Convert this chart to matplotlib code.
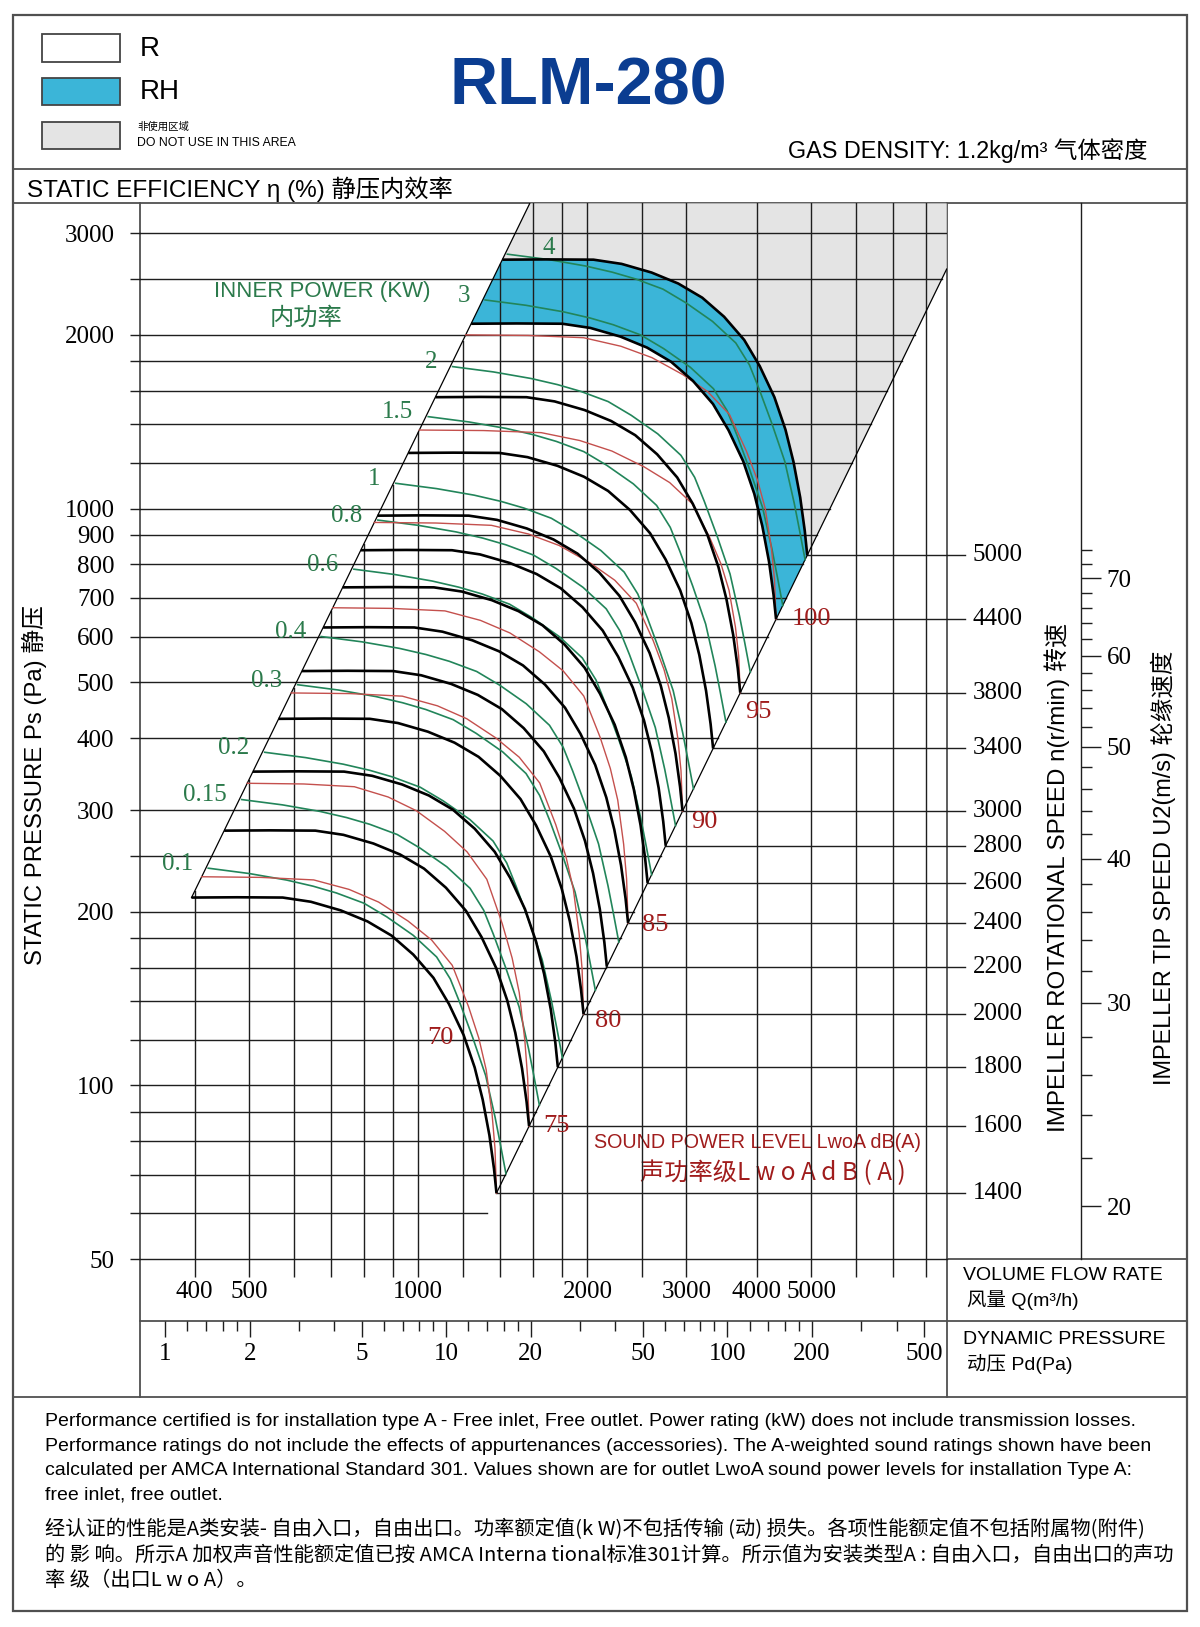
import numpy as np
import matplotlib.pyplot as plt
from matplotlib.patches import Polygon, Rectangle
from matplotlib.ticker import FixedLocator, FixedFormatter, NullFormatter

SANS = ['Liberation Sans', 'Noto Sans CJK SC', 'DejaVu Sans']
SERIF = ['Liberation Serif', 'DejaVu Serif']
CJK = ['Noto Sans CJK SC', 'DejaVu Sans']

# ---------------- data ----------------
Q_LIM = (320, 8710)        # volume flow, m3/h
P_LIM = (50, 3380)         # static pressure, Pa

P_GRID = [60, 70, 80, 90, 100, 120, 140, 160, 180, 200, 250, 300, 400, 500,
          600, 700, 800, 900, 1000, 1200, 1400, 1600, 1800, 2000, 2500, 3000]
P_TICKS = [50, 100, 200, 300, 400, 500, 600, 700, 800, 900, 1000, 2000, 3000]
Q_GRID = [400, 500, 600, 700, 800, 900, 1000, 1200, 1400, 1600, 1800, 2000,
          2500, 3000, 4000, 5000, 6000, 7000, 8000]
Q_TICKS = [400, 500, 1000, 2000, 3000, 4000, 5000]

PD_TICKS = [1, 2, 5, 10, 20, 50, 100, 200, 500]
PD_MINOR = [1.2, 1.4, 1.6, 1.8, 3, 4, 6, 7, 8, 9, 12, 14, 16, 18, 30, 40,
            60, 70, 80, 90, 120, 140, 160, 180, 300, 400]

TIP_MAJOR = [20, 30, 40, 50, 60, 70]
TIP_MINOR = [22, 24, 26, 28, 32, 34, 36, 38, 42, 44, 46, 48, 52, 54, 56, 58,
             62, 64, 66, 68, 72, 74]

SPEEDS = [1400, 1600, 1800, 2000, 2200, 2400, 2600, 2800, 3000, 3400, 3800, 4400, 5000]
R_MAX_SPEED = 4400          # RH band is between 4400 and 5000 r/min
BASE_SPEED = 5000
# fan curve at 5000 r/min (Q m3/h, Ps Pa)
BASE_Q = [1411, 1700, 2050, 2300, 2600, 2900, 3200, 3500, 3800, 4050, 4300,
          4500, 4650, 4780, 4870, 4920]
BASE_P = [2700, 2703, 2700, 2655, 2565, 2455, 2320, 2150, 1960, 1765, 1560,
          1370, 1205, 1045, 915, 830]

# inner power curves (kW): start pressure on the left boundary line
POWER_LABELS = ['0.1', '0.15', '0.2', '0.3', '0.4', '0.6', '0.8', '1', '1.5', '2', '3', '4']
POWER_START_P = [238, 313, 378, 495, 600, 785, 955, 1106, 1443, 1762, 2299, 2760]
# shape of the 0.1 kW curve
POWER_Q = [423, 500, 583, 650, 715, 800, 879, 980, 1078, 1140, 1186, 1250,
           1318, 1370, 1400, 1432]
POWER_P = [238, 233, 227, 221.5, 215.6, 207, 196, 182, 167, 153, 139, 121,
           104, 88, 79, 70.3]

# sound power level curves dB(A): start pressure and the speed curve they end on
SOUND_LABELS = ['70', '75', '80', '85', '90', '95', '100']
SOUND_START_P = [230, 334, 479, 673, 946, 1368, 2000]
SOUND_END_SPEED = [1400, 1600, 2000, 2400, 3000, 3800, 4400]
# normalised shape (log flow fraction, log pressure fraction)
SOUND_U = [0, 0.2, 0.38, 0.5, 0.6, 0.7, 0.78, 0.85, 0.905, 0.94, 0.965, 0.985, 0.995, 1]
SOUND_V = [1, 0.998, 0.99, 0.96, 0.92, 0.86, 0.80, 0.72, 0.59, 0.49, 0.39, 0.25, 0.14, 0]

IMPELLER_D = 0.28           # m
OUTLET_AREA = 0.0763        # m2
GAS_DENSITY = 1.2           # kg/m3

# ---------------- styles ----------------
GRID_C = '#1e1e1e'
BLUE = '#3bb5d8'
GREY = '#e4e4e4'
GREEN = '#22855a'
GREEN_TXT = '#2b7a4b'
RED = '#c4504d'
RED_TXT = '#a01c1c'
FRAME_C = '#505050'
TICK_FS = 18

# offsets (points) of the dB labels from the end of their curve
SOUND_LABEL_OFFSETS = [(-40, 112), (20, 0), (18, -5), (19.5, -1.5), (16, -8), (13, -14), (25.5, 0)]


def fan_scale(q, p, ratio):
    return np.asarray(q, float) * ratio, np.asarray(p, float) * ratio ** 2


fig = plt.figure(figsize=(12, 16.27), dpi=100)

# background layer in pixel coordinates for frame, header and footer
bg = fig.add_axes([0, 0, 1, 1])
bg.set_xlim(0, 1200)
bg.set_ylim(1627, 0)
bg.axis('off')

bg.add_patch(Rectangle((12.5, 14.5), 1174, 1596, fc='none', ec=FRAME_C, lw=1.6))
for y, x0, x1 in [(169, 12.5, 1186.5), (203.4, 12.5, 1186.5), (1258.5, 946.7, 1186.5),
                  (1321, 140.1, 1186.5), (1397, 12.5, 1186.5)]:
    bg.plot([x0, x1], [y, y], color=FRAME_C, lw=1.3)
for x in [140.1, 946.7]:
    bg.plot([x, x], [203.4, 1397], color=FRAME_C, lw=1.3)

# legend boxes
bg.add_patch(Rectangle((41.5, 34), 78, 28, fc='white', ec='#444444', lw=1.3))
bg.add_patch(Rectangle((41.5, 78), 78, 27, fc=BLUE, ec='#444444', lw=1.3))
bg.add_patch(Rectangle((41.5, 121.5), 78, 27, fc=GREY, ec='#444444', lw=1.3))
bg.text(140, 49, 'R', fontsize=20, family=SANS, va='center')
bg.text(140, 92, 'RH', fontsize=20, family=SANS, va='center')
bg.text(137, 127, '非使用区域', fontsize=7.5, family=CJK, va='center')
bg.text(137, 143, 'DO NOT USE IN THIS AREA', fontsize=8.8, family=SANS, va='center')
bg.text(588, 87, 'RLM-280', fontsize=48, fontweight='bold', family=SANS,
        color='#0b3d91', ha='center', va='center')
bg.text(1147, 151, 'GAS DENSITY: 1.2kg/m³ 气体密度', fontsize=16.8, family=SANS,
        ha='right', va='center')
bg.text(27, 189, 'STATIC EFFICIENCY η (%) 静压内效率', fontsize=17.5, family=SANS, va='center')
bg.text(34, 785, 'STATIC PRESSURE Ps (Pa) 静压', fontsize=17.2, family=SANS,
        rotation=90, ha='center', va='center')
bg.text(1057, 877, 'IMPELLER ROTATIONAL SPEED n(r/min) 转速', fontsize=17.4, family=SANS,
        rotation=90, ha='center', va='center')
bg.text(1163, 868, 'IMPELLER TIP SPEED U2(m/s) 轮缘速度', fontsize=16.9, family=SANS,
        rotation=90, ha='center', va='center')
bg.text(963, 1275, 'VOLUME FLOW RATE', fontsize=14, family=SANS, va='center')
bg.text(967, 1300, '风量 Q(m³/h)', fontsize=14, family=SANS, va='center')
bg.text(963, 1339, 'DYNAMIC PRESSURE', fontsize=14, family=SANS, va='center')
bg.text(967, 1364, '动压 Pd(Pa)', fontsize=14, family=SANS, va='center')

footer_en = [
    'Performance certified is for installation type A - Free inlet, Free outlet. Power rating (kW) does not include transmission losses.',
    'Performance ratings do not include the effects of appurtenances (accessories). The A-weighted sound ratings shown have been',
    'calculated per AMCA International Standard 301. Values shown are for outlet LwoA sound power levels for installation Type A:',
    'free inlet, free outlet.',
]
footer_cn = [
    '经认证的性能是A类安装- 自由入口，自由出口。功率额定值(k W)不包括传输 (动) 损失。各项性能额定值不包括附属物(附件)',
    '的 影 响。所示A 加权声音性能额定值已按 AMCA Interna tional标准301计算。所示值为安装类型A : 自由入口，自由出口的声功',
    '率 级（出口L w o A）。',
]
for i, line in enumerate(footer_en):
    bg.text(45, 1422 + 24.3 * i, line, fontsize=14.0, family=SANS, va='center')
for i, line in enumerate(footer_cn):
    bg.text(45, 1529 + 26 * i, line, fontsize=14.6, family=CJK, va='center')

# ---------------- main chart ----------------
ax = fig.add_axes([140.1 / 1200, 1 - 1259.1 / 1627, 806.6 / 1200, 1055.7 / 1627])
ax.set_facecolor('none')
ax.set_xscale('log')
ax.set_yscale('log')
ax.set_xlim(*Q_LIM)
ax.set_ylim(*P_LIM)
for s in ['top', 'left', 'right']:
    ax.spines[s].set_visible(False)
ax.spines['bottom'].set_color(GRID_C)
ax.spines['bottom'].set_linewidth(1.0)

ax.xaxis.set_major_locator(FixedLocator(Q_TICKS))
ax.xaxis.set_major_formatter(FixedFormatter([str(q) for q in Q_TICKS]))
ax.xaxis.set_minor_locator(FixedLocator([q for q in Q_GRID if q not in Q_TICKS]))
ax.xaxis.set_minor_formatter(NullFormatter())
ax.yaxis.set_major_locator(FixedLocator(P_TICKS))
ax.yaxis.set_major_formatter(FixedFormatter([str(p) for p in P_TICKS]))
ax.yaxis.set_minor_locator(FixedLocator([p for p in P_GRID if p not in P_TICKS]))
ax.yaxis.set_minor_formatter(NullFormatter())
ax.tick_params(axis='x', which='both', direction='out', length=13, width=1.0,
               color=GRID_C, pad=3, labelsize=TICK_FS, labelfontfamily=SERIF)
ax.tick_params(axis='y', which='both', direction='out', length=7.5, width=1.0,
               color=GRID_C, pad=11, labelsize=TICK_FS, labelfontfamily=SERIF)

c_left = BASE_P[0] / BASE_Q[0] ** 2     # left boundary line  P = c Q^2
c_right = BASE_P[-1] / BASE_Q[-1] ** 2  # right boundary line

curves = {n: fan_scale(BASE_Q, BASE_P, n / BASE_SPEED) for n in SPEEDS}
q_top, p_top = curves[BASE_SPEED]
q_r, p_r = curves[R_MAX_SPEED]
q_low, p_low = curves[SPEEDS[0]]

# do-not-use area and RH band
q_left_top = np.sqrt(P_LIM[1] / c_left)
grey_pts = ([(q_left_top, P_LIM[1]), (Q_LIM[1], P_LIM[1]), (Q_LIM[1], c_right * Q_LIM[1] ** 2)]
            + list(zip(q_top[::-1], p_top[::-1])))
ax.add_patch(Polygon(grey_pts, closed=True, fc=GREY, ec='none', zorder=1))
blue_pts = list(zip(q_top, p_top)) + list(zip(q_r[::-1], p_r[::-1]))
ax.add_patch(Polygon(blue_pts, closed=True, fc=BLUE, ec='none', zorder=1))

# grid, clipped by the two boundary lines
for p in P_GRID:
    q_end = min(np.sqrt(p / c_right), Q_LIM[1])
    ax.plot([Q_LIM[0], q_end], [p, p], color=GRID_C, lw=1.0, zorder=2)
for q in Q_GRID:
    ax.plot([q, q], [P_LIM[0], min(c_left * q ** 2, P_LIM[1])], color=GRID_C, lw=1.0, zorder=2)

# boundary lines
ax.plot([q_low[0], q_left_top], [p_low[0], P_LIM[1]], color='black', lw=0.9, zorder=3)
ax.plot([q_low[-1], Q_LIM[1]], [p_low[-1], c_right * Q_LIM[1] ** 2], color='black', lw=0.9, zorder=3)

# power curves
for lab, p0 in zip(POWER_LABELS, POWER_START_P):
    q, p = fan_scale(POWER_Q, POWER_P, np.sqrt(p0 / POWER_P[0]))
    ax.plot(q, p, color=GREEN, lw=1.2, zorder=4)
    if lab == '4':
        ax.annotate(lab, (q[0], p[0]), xytext=(30, 4.5), textcoords='offset points',
                    ha='center', va='center', fontsize=18, family=SERIF, color=GREEN_TXT)
    else:
        ax.annotate(lab, (q[0], p[0]), xytext=(-11, 3), textcoords='offset points',
                    ha='right', va='center', fontsize=18, family=SERIF, color=GREEN_TXT)

# sound curves
u = np.asarray(SOUND_U)
v = np.asarray(SOUND_V)
for lab, p0, n, off in zip(SOUND_LABELS, SOUND_START_P, SOUND_END_SPEED, SOUND_LABEL_OFFSETS):
    q0 = np.sqrt(p0 / c_left)
    q1, p1 = curves[n][0][-1], curves[n][1][-1]
    ax.plot(q0 * (q1 / q0) ** u, p1 * (p0 / p1) ** v, color=RED, lw=1.0, zorder=4)
    ax.annotate(lab, (q1, p1), xytext=off, textcoords='offset points', ha='center',
                va='center', fontsize=19, family=SERIF, color=RED_TXT, zorder=6)

# speed curves and speed scale
q_line_end = 10 ** (np.log10(Q_LIM[1]) + 0.023 * np.log10(Q_LIM[1] / Q_LIM[0]))
for n in SPEEDS:
    q, p = curves[n]
    ax.plot(q, p, color='black', lw=1.9, zorder=5, solid_capstyle='butt')
    ax.plot([q[-1], q_line_end], [p[-1], p[-1]], color=GRID_C, lw=1.0, zorder=2, clip_on=False)
    ax.text(1.032, p[-1], str(n), transform=ax.get_yaxis_transform(), ha='left',
            va='center', fontsize=TICK_FS, family=SERIF)

bg.text(322, 291, 'INNER POWER (KW)', fontsize=16, family=SANS, color=GREEN_TXT,
        ha='center', va='center')
bg.text(306, 318, '内功率', fontsize=17.5, family=CJK, color=GREEN_TXT, ha='center', va='center')
bg.text(757, 1143, 'SOUND POWER LEVEL LwoA dB(A)', fontsize=14.2, family=SANS,
        color=RED_TXT, ha='center', va='center')
bg.text(773, 1173, '声功率级L w o A d B ( A )', fontsize=17.5, family=CJK,
        color=RED_TXT, ha='center', va='center')

# ---------------- tip speed axis ----------------
u_ref = np.pi * IMPELLER_D * BASE_SPEED / 60.0
k_tip = u_ref / np.sqrt(BASE_P[-1])
ax_tip = fig.add_axes([1080.6 / 1200, 1 - 1259.1 / 1627, 0.0001, 1055.7 / 1627])
ax_tip.set_yscale('log')
ax_tip.set_ylim(k_tip * np.sqrt(P_LIM[0]), k_tip * np.sqrt(P_LIM[1]))
ax_tip.set_xticks([])
for s in ['top', 'bottom', 'left']:
    ax_tip.spines[s].set_visible(False)
ax_tip.spines['right'].set_color(GRID_C)
ax_tip.spines['right'].set_linewidth(1.0)
ax_tip.yaxis.tick_right()
ax_tip.yaxis.set_major_locator(FixedLocator(TIP_MAJOR))
ax_tip.yaxis.set_major_formatter(FixedFormatter([str(t) for t in TIP_MAJOR]))
ax_tip.yaxis.set_minor_locator(FixedLocator(TIP_MINOR))
ax_tip.yaxis.set_minor_formatter(NullFormatter())
ax_tip.tick_params(axis='y', which='major', direction='out', length=14.5, width=1.0,
                   color=GRID_C, pad=4, labelsize=TICK_FS, labelfontfamily=SERIF)
ax_tip.tick_params(axis='y', which='minor', direction='out', length=8, width=1.0, color=GRID_C)

# ---------------- dynamic pressure scale ----------------
def dyn_pressure(q):
    return 0.5 * GAS_DENSITY * (q / 3600.0 / OUTLET_AREA) ** 2

ax_pd = fig.add_axes([140.1 / 1200, 1 - 1321 / 1627, 806.6 / 1200, 0.0001])
ax_pd.set_xscale('log')
ax_pd.set_xlim(dyn_pressure(Q_LIM[0]), dyn_pressure(Q_LIM[1]))
ax_pd.set_yticks([])
for s in ax_pd.spines.values():
    s.set_visible(False)
ax_pd.xaxis.set_major_locator(FixedLocator(PD_TICKS))
ax_pd.xaxis.set_major_formatter(FixedFormatter([str(t) for t in PD_TICKS]))
ax_pd.xaxis.set_minor_locator(FixedLocator(PD_MINOR))
ax_pd.xaxis.set_minor_formatter(NullFormatter())
ax_pd.tick_params(axis='x', which='major', direction='out', length=11.5, width=1.0,
                  color=GRID_C, pad=4, labelsize=TICK_FS, labelfontfamily=SERIF)
ax_pd.tick_params(axis='x', which='minor', direction='out', length=7, width=1.0, color=GRID_C)

fig.savefig('out.png', dpi=100)
